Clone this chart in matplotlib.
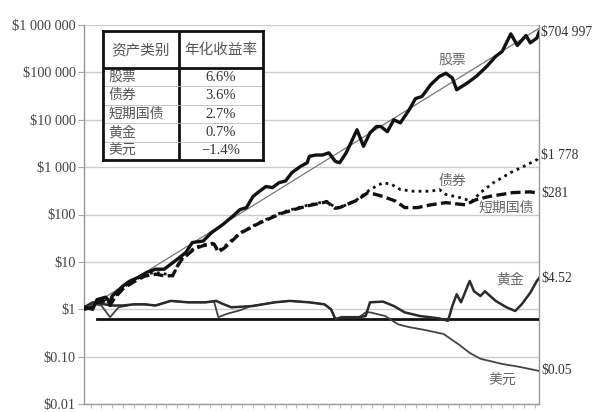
import numpy as np
import matplotlib
matplotlib.use("Agg")
import matplotlib.pyplot as plt
from matplotlib.ticker import FixedLocator, MultipleLocator, NullFormatter

plt.rcParams['font.family'] = ['Liberation Serif', 'Noto Sans CJK SC', 'DejaVu Sans']

stock_years = [1802, 1806, 1808, 1812, 1814, 1815, 1820, 1823, 1827, 1831, 1835, 1839, 1842,
               1845, 1849, 1852, 1857, 1861, 1866, 1871, 1874, 1877, 1880, 1883, 1886, 1889,
               1892, 1895, 1898, 1902, 1905, 1906, 1909, 1912, 1915, 1918, 1920, 1923, 1928,
               1931, 1934, 1937, 1939, 1942, 1945, 1948, 1952, 1955, 1958, 1962, 1966, 1969,
               1972, 1974, 1979, 1983, 1988, 1992, 1995, 1999, 2002, 2006, 2008, 2011, 2012]
stock_vals = [1.1, 1.0, 1.6, 1.8, 1.4, 1.9, 3.1, 3.9, 4.7, 6.0, 7.0, 7.0, 8.9,
              11.3, 15.8, 25.6, 27.5, 42, 61, 95, 127, 140, 240, 310, 390, 370,
              470, 510, 770, 1040, 1240, 1690, 1800, 1800, 2000, 1320, 1240, 2000, 6150,
              2750, 5300, 7200, 7200, 5600, 10000, 8600, 16000, 28000, 31000, 55000, 82000, 96000,
              76000, 43000, 60000, 82000, 135000, 217000, 277000, 650000, 370000, 600000, 420000,
              530000, 704997]

trend_years = [1802, 2012]
trend_vals = [0.95, 850000]

bond_years = [1802, 1806, 1808, 1812, 1814, 1816, 1820, 1825, 1830, 1835, 1840, 1843, 1845,
              1847, 1853, 1857, 1862, 1864, 1867, 1874, 1883, 1893, 1901, 1906, 1914, 1918,
              1920, 1923, 1928, 1934, 1940, 1944, 1948, 1954, 1962, 1966, 1969, 1975, 1981,
              1985, 1991, 1999, 2005, 2011, 2012]
bond_vals = [1.0, 1.1, 1.5, 1.6, 1.3, 1.8, 2.9, 4.0, 5.5, 6.0, 5.5, 5.0, 8.0,
             11.3, 20, 23, 25, 17, 21.5, 41, 68, 110, 140, 160, 190, 140,
             140, 160, 206, 336, 470, 430, 336, 310, 310, 336, 265, 230, 190,
             290, 470, 770, 1040, 1430, 1778]

bill_years = [1802, 1806, 1808, 1812, 1814, 1816, 1820, 1825, 1830, 1835, 1840, 1843, 1845,
              1847, 1853, 1857, 1862, 1864, 1867, 1874, 1883, 1893, 1901, 1906, 1914, 1918,
              1920, 1923, 1928, 1933, 1936, 1940, 1946, 1950, 1956, 1962, 1969, 1978, 1983,
              1989, 2000, 2008, 2012]
bill_vals = [1.0, 1.1, 1.4, 1.5, 1.2, 1.7, 2.7, 3.8, 5.0, 5.5, 5.0, 5.2, 8.0,
             11, 19, 22, 24, 16, 20, 40, 66, 105, 135, 155, 185, 135,
             140, 160, 200, 290, 270, 240, 190, 140, 140, 160, 178, 160, 206,
             240, 290, 300, 281]

gold_years = [1802, 1806, 1810, 1815, 1820, 1825, 1830, 1835, 1842, 1850, 1858, 1863, 1866,
              1870, 1880, 1890, 1897, 1906, 1913, 1916, 1918, 1921, 1929, 1932, 1934, 1940,
              1945, 1950, 1957, 1966, 1970, 1972, 1974, 1976, 1980, 1982, 1985, 1987, 1992,
              1997, 2001, 2004, 2008, 2011, 2012]
gold_vals = [1.1, 1.4, 1.3, 1.2, 1.2, 1.27, 1.27, 1.2, 1.5, 1.4, 1.4, 1.5, 1.3,
             1.1, 1.17, 1.4, 1.5, 1.4, 1.27, 1.0, 0.62, 0.68, 0.68, 0.72, 1.4, 1.45,
             1.17, 0.86, 0.72, 0.64, 0.57, 1.17, 2.07, 1.4, 3.95, 2.4, 1.9, 2.4, 1.5,
             1.1, 0.92, 1.27, 2.24, 3.95, 4.52]

dollar_years = [1802, 1806, 1810, 1814, 1818, 1825, 1830, 1835, 1842, 1850, 1858, 1862, 1864,
                1868, 1874, 1879, 1890, 1897, 1906, 1913, 1916, 1918, 1921, 1929, 1932, 1934,
                1941, 1947, 1952, 1960, 1968, 1975, 1980, 1985, 1995, 2002, 2012]
dollar_vals = [1.1, 1.3, 1.2, 0.68, 1.1, 1.27, 1.27, 1.2, 1.5, 1.4, 1.4, 1.45, 0.68,
               0.8, 0.95, 1.17, 1.4, 1.5, 1.4, 1.27, 1.0, 0.62, 0.68, 0.68, 0.86, 0.86,
               0.72, 0.48, 0.42, 0.36, 0.3, 0.18, 0.12, 0.09, 0.07, 0.062, 0.05]

base_years = [1808, 2012]
base_vals = [0.63, 0.63]

y_ticks = [0.01, 0.1, 1, 10, 100, 1000, 10000, 100000, 1000000]
y_labels = ["$0.01", "$0.10", "$1", "$10", "$100", "$1 000", "$10 000", "$100 000", "$1 000 000"]

tbl_header = ["资产类别", "年化收益率"]
tbl_assets = ["股票", "债券", "短期国债", "黄金", "美元"]
tbl_rates = ["6.6%", "3.6%", "2.7%", "0.7%", "\u22121.4%"]

# ---- figure ----
fig = plt.figure(figsize=(6.0, 4.12), dpi=100)
W, H = 600, 412
ax = fig.add_axes([84 / W, 1 - 404 / H, 455 / W, 379 / H])
ax.set_yscale("log")
ax.set_xlim(1802, 2012)
ax.set_ylim(0.01, 1e6)

ax.yaxis.set_major_locator(FixedLocator(y_ticks))
ax.set_yticklabels(y_labels)
ax.yaxis.set_minor_formatter(NullFormatter())
ax.tick_params(axis="y", which="minor", length=0)
ax.tick_params(axis="y", which="major", length=4, color="#aaaaaa", labelsize=10.3,
               labelcolor="#444444", pad=2)
ax.xaxis.set_major_locator(MultipleLocator(5))
ax.xaxis.set_major_formatter(NullFormatter())
ax.tick_params(axis="x", length=3, color="#bbbbbb", direction="out")
ax.grid(True, axis="y", which="major", color="#cccccc", lw=1)
for s in ax.spines.values():
    s.set_color("#999999")
    s.set_linewidth(1)
ax.spines["top"].set_visible(False)

ax.plot(trend_years, trend_vals, color="#777777", lw=0.9, zorder=3)
ax.plot(base_years, base_vals, color="#111111", lw=2, zorder=3)
ax.plot(dollar_years, dollar_vals, color="#444444", lw=1.3, zorder=4)
ax.plot(gold_years, gold_vals, color="#2a2a2a", lw=1.8, zorder=4)
ax.plot(bill_years, bill_vals, color="#111111", lw=2.4, ls=(0, (3, 1.3)), zorder=5)
ax.plot(bond_years, bond_vals, color="#111111", lw=2, ls=(0, (1, 1.5)), zorder=5)
ax.plot(stock_years, stock_vals, color="#111111", lw=2.4, zorder=6)

# end values on the right
ends = [(stock_years[-1], stock_vals[-1], "$704 997"),
        (bond_years[-1], bond_vals[-1], "$1 778"),
        (bill_years[-1], bill_vals[-1], "$281"),
        (gold_years[-1], gold_vals[-1], "$4.52"),
        (dollar_years[-1], dollar_vals[-1], "$0.05")]
for x, v, t in ends:
    ax.annotate(t, (x, v), xytext=(1.5, 0), textcoords="offset points", va="center",
                ha="left", fontsize=9.8, color="#333333", annotation_clip=False)

# series names
lab_kw = dict(fontsize=10, color="#666666", ha="center", va="center", zorder=7)
ax.text(1972, 178000, "股票", **lab_kw)
ax.text(1972, 490, "债券", **lab_kw)
ax.text(1997, 139, "短期国债", **lab_kw)
ax.text(1998.5, 4.27, "黄金", **lab_kw)
ax.text(1995, 0.031, "美元", **lab_kw)

# table in the upper left
tx = fig.add_axes([103 / W, 1 - 160 / H, 160 / W, 129 / H])
tx.set_xlim(103, 263)
tx.set_ylim(160, 31)
tx.set_xticks([])
tx.set_yticks([])
tx.set_facecolor("white")
for s in tx.spines.values():
    s.set_linewidth(2)
    s.set_color("#111111")
tx.axvline(179, color="#111111", lw=2)
tx.axhline(68, color="#111111", lw=2)
row_h = (160 - 68) / len(tbl_assets)
for i in range(1, len(tbl_assets)):
    tx.axhline(68 + i * row_h, color="#bbbbbb", lw=0.6)
tx.text(141, 50, tbl_header[0], ha="center", va="center", fontsize=10.5, color="#555555")
tx.text(221, 50, tbl_header[1], ha="center", va="center", fontsize=10.5, color="#555555")
for i, (a, r) in enumerate(zip(tbl_assets, tbl_rates)):
    yc = 68 + (i + 0.5) * row_h
    tx.text(108, yc, a, ha="left", va="center", fontsize=10, color="#555555")
    tx.text(221, yc, r, ha="center", va="center", fontsize=10.5, color="#333333")

fig.savefig("out.png", dpi=100)
